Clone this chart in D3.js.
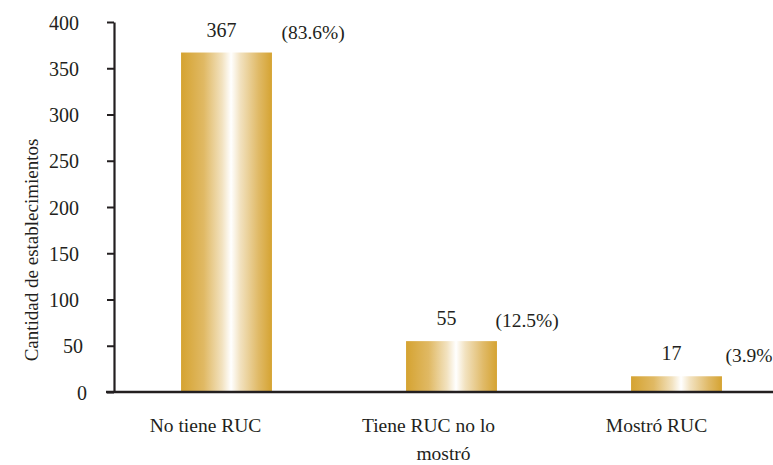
<!DOCTYPE html>
<html>
<head>
<meta charset="utf-8">
<script src="https://cdn.jsdelivr.net/npm/d3@7"></script>
</head>
<body style="margin:0">
<svg id="chart" width="773" height="465" font-family="Liberation Serif"></svg>
<script>
// data
const categories = ['No tiene RUC', 'Tiene RUC no lo mostró', 'Mostró RUC'];
const categoryLines = [['No tiene RUC'], ['Tiene RUC no lo', 'mostró'], ['Mostró RUC']];
const counts = [367, 55, 17];
const shares = ['(83.6%)', '(12.5%)', '(3.9%'];
const yTicks = [0, 50, 100, 150, 200, 250, 300, 350, 400];

// hand-placed label nudges (the source chart had them set by hand)
const pctDx = [55, 44, 49];
const lineDx = [[-21], [-23, -8], [-20]];

const font = 'Liberation Serif';
const ink = '#231f20';

const svg = d3.select('#chart');

const x = d3.scaleBand()
  .domain(categories)
  .range([114, 789])
  .paddingInner(0.596)
  .paddingOuter(0.298);

const y = d3.scaleLinear()
  .domain([0, 400])
  .range([392, 22]);

// gold - white - gold bar fill
const grad = svg.append('defs').append('linearGradient')
  .attr('id', 'gold')
  .attr('x1', '0%').attr('x2', '100%').attr('y1', '0%').attr('y2', '0%');
[
  [0, '#d5a331'], [0.25, '#e0b964'], [0.45, '#f2e2bf'],
  [0.55, '#ffffff'], [0.65, '#f2e2c0'], [0.85, '#e0ba68'], [1, '#d5a331']
].forEach(([o, c]) => grad.append('stop').attr('offset', o).attr('stop-color', c));

// bars
svg.append('g')
  .selectAll('rect')
  .data(counts)
  .join('rect')
  .attr('x', (d, i) => x(categories[i]))
  .attr('y', d => y(d))
  .attr('width', x.bandwidth())
  .attr('height', d => y(0) - y(d))
  .attr('fill', 'url(#gold)');

// y axis
const yAxis = svg.append('g')
  .attr('transform', 'translate(114,0)')
  .call(d3.axisLeft(y).tickValues(yTicks).tickSize(7).tickPadding(28).tickSizeOuter(0));
yAxis.attr('font-family', null).attr('font-size', null);
yAxis.select('.domain').attr('stroke', ink).attr('stroke-width', 2.2);
yAxis.selectAll('.tick line').attr('stroke', ink).attr('stroke-width', 2);
yAxis.selectAll('.tick text')
  .style('font-family', font)
  .style('font-size', '20px')
  .attr('fill', ink)
  .attr('dx', function () { return (3 - this.textContent.length) * 4; })
  .attr('dy', '0.35em');

// x axis line
svg.append('line')
  .attr('x1', 106).attr('x2', 773)
  .attr('y1', y(0)).attr('y2', y(0))
  .attr('stroke', ink).attr('stroke-width', 2.4);

// category labels
categoryLines.forEach((lines, i) => {
  lines.forEach((t, j) => {
    svg.append('text')
      .attr('x', x(categories[i]) + x.bandwidth() / 2 + lineDx[i][j])
      .attr('y', 432 + j * 28)
      .attr('text-anchor', 'middle')
      .style('font-family', font)
      .style('font-size', '19.5px')
      .attr('fill', ink)
      .text(t);
  });
});

// value labels
svg.append('g')
  .selectAll('text')
  .data(counts)
  .join('text')
  .attr('x', (d, i) => x(categories[i]) + x.bandwidth() / 2 - 5)
  .attr('y', d => y(d) - 16)
  .attr('text-anchor', 'middle')
  .style('font-family', font)
  .style('font-size', '20px')
  .attr('fill', ink)
  .text(d => d);

svg.append('g')
  .selectAll('text')
  .data(shares)
  .join('text')
  .attr('x', (d, i) => x(categories[i]) + x.bandwidth() / 2 + pctDx[i])
  .attr('y', (d, i) => y(counts[i]) - 14)
  .style('font-family', font)
  .style('font-size', '19.5px')
  .attr('fill', ink)
  .text(d => d);

// y axis title
svg.append('text')
  .attr('transform', 'translate(38,250) rotate(-90)')
  .attr('text-anchor', 'middle')
  .style('font-family', font)
  .style('font-size', '19px')
  .attr('fill', ink)
  .text('Cantidad de establecimientos');
</script>
</body>
</html>
